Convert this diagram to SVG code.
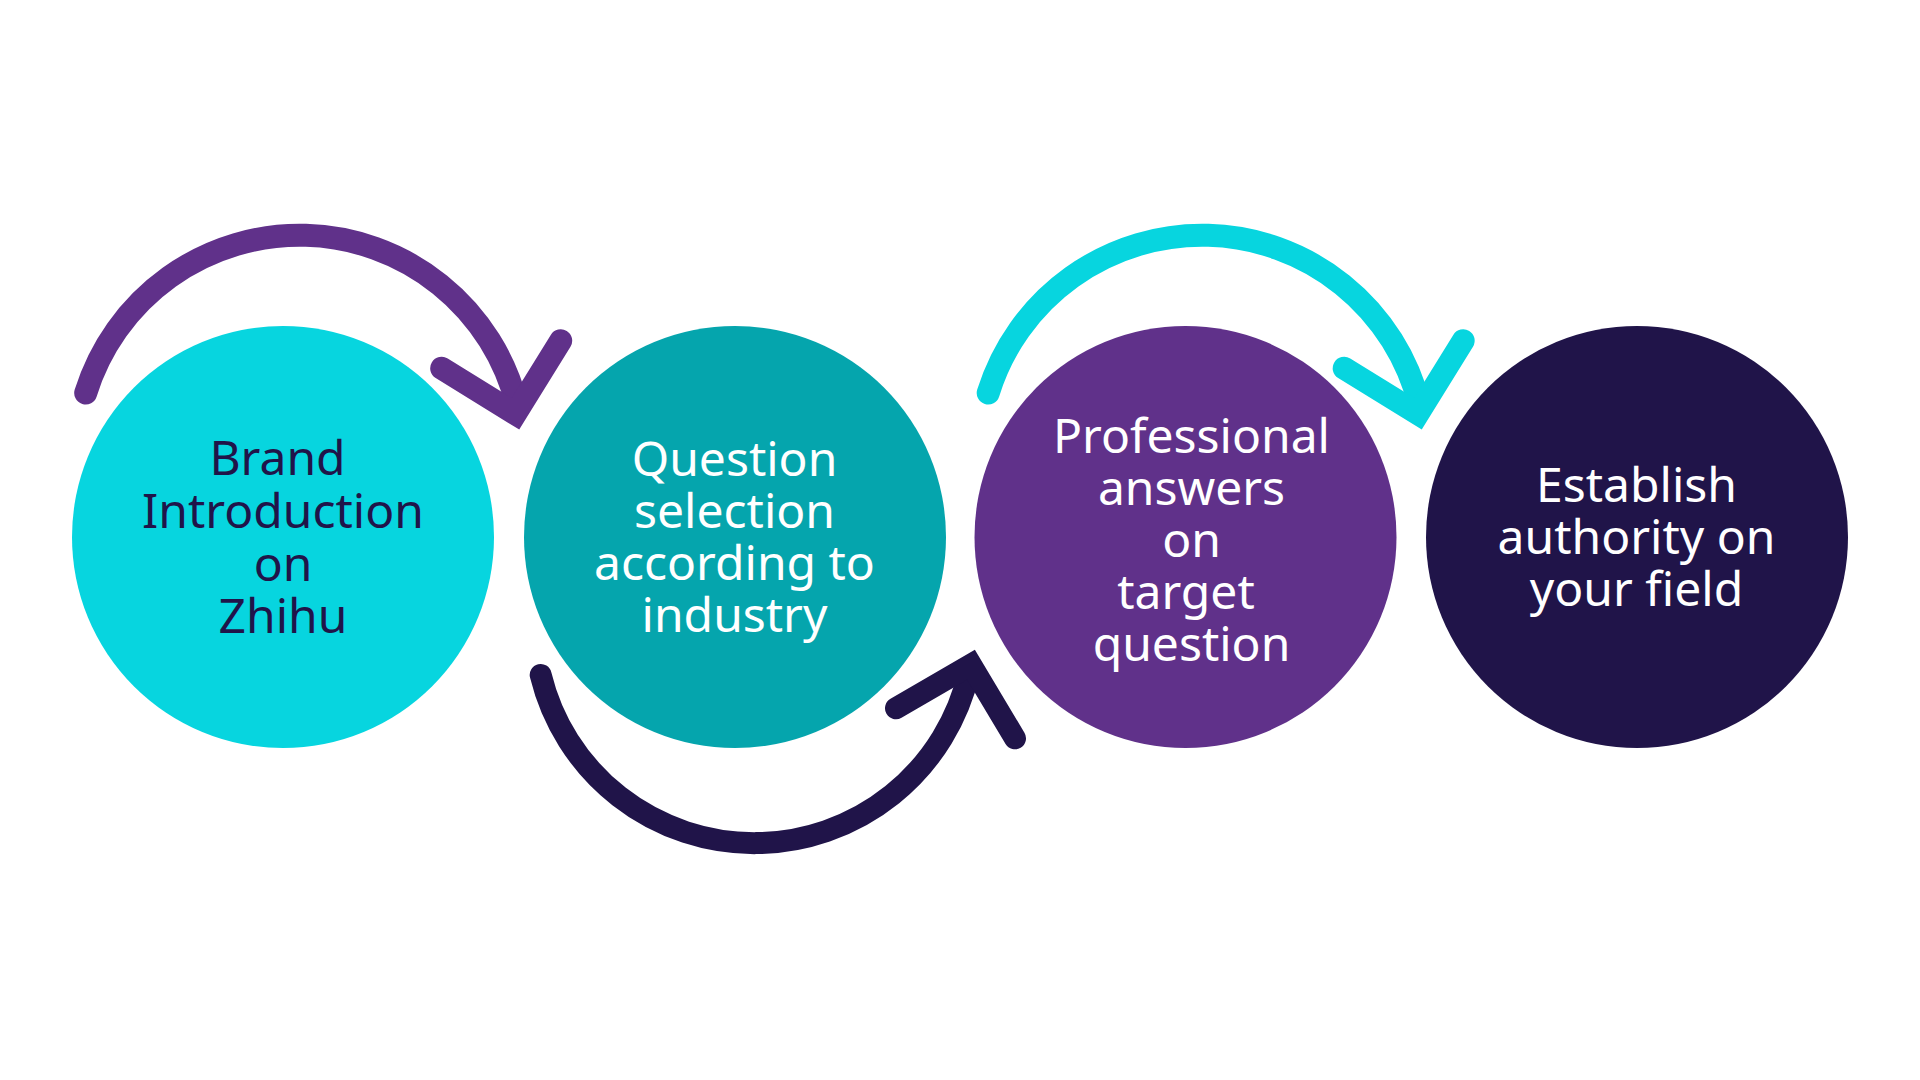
<svg xmlns="http://www.w3.org/2000/svg" width="1920" height="1080" viewBox="0 0 1920 1080">
  <style>
    .lbl { font-family: "Noto Sans", "Open Sans", sans-serif; font-size: 48px; text-anchor: middle; }
    .dark { fill: #201449; }
    .light { fill: #ffffff; }
    .arc { fill: none; stroke-width: 23; stroke-linecap: round; }
    .head { fill: none; stroke-width: 23; stroke-linecap: round; stroke-linejoin: miter; stroke-miterlimit: 10; }
  </style>
  <rect width="1920" height="1080" fill="#ffffff"/>

  <g id="node-brand">
    <circle cx="283" cy="537" r="211" fill="#07d5df"/>
    <text class="lbl dark"><tspan x="277.5" y="475">Brand</tspan><tspan x="283" y="528">Introduction</tspan><tspan x="283" y="580.5">on</tspan><tspan x="283" y="633">Zhihu</tspan></text>
  </g>

  <g id="node-question">
    <circle cx="735" cy="537" r="211" fill="#05a5ad"/>
    <text class="lbl light"><tspan x="734.5" y="476">Question</tspan><tspan x="734.5" y="528">selection</tspan><tspan x="734.5" y="580">according to</tspan><tspan x="734.5" y="632">industry</tspan></text>
  </g>

  <g id="node-answers">
    <circle cx="1185.5" cy="537" r="211" fill="#60318a"/>
    <text class="lbl light"><tspan x="1191.5" y="453">Professional</tspan><tspan x="1191.5" y="505">answers</tspan><tspan x="1191.5" y="557">on</tspan><tspan x="1186" y="609">target</tspan><tspan x="1191.5" y="661">question</tspan></text>
  </g>

  <g id="node-authority">
    <circle cx="1637" cy="537" r="211" fill="#201449"/>
    <text class="lbl light"><tspan x="1636.5" y="502">Establish</tspan><tspan x="1636.5" y="554">authority on</tspan><tspan x="1636.5" y="605.5">your field</tspan></text>
  </g>

  <g id="connectors">
    <g id="arrow-1-2" stroke="#60318a">
      <path class="arc" d="M 85.7 393 A 224 224 0 0 1 517 405"/>
      <path class="head" d="M 441.7 368.3 L 515.5 413.8 L 560.7 340.7"/>
    </g>
    <g id="arrow-2-3" stroke="#201449">
      <path class="arc" style="stroke-width:22" d="M 540.7 675 A 220 220 0 0 0 969 672"/>
      <path class="head" style="stroke-width:22" d="M 896 708.3 L 971 664.8 L 1015 738.3"/>
    </g>
    <g id="arrow-3-4" stroke="#07d5df" transform="translate(902.5 0)">
      <path class="arc" d="M 85.7 393 A 224 224 0 0 1 517 405"/>
      <path class="head" d="M 441.7 368.3 L 515.5 413.8 L 560.7 340.7"/>
    </g>
  </g>
</svg>
